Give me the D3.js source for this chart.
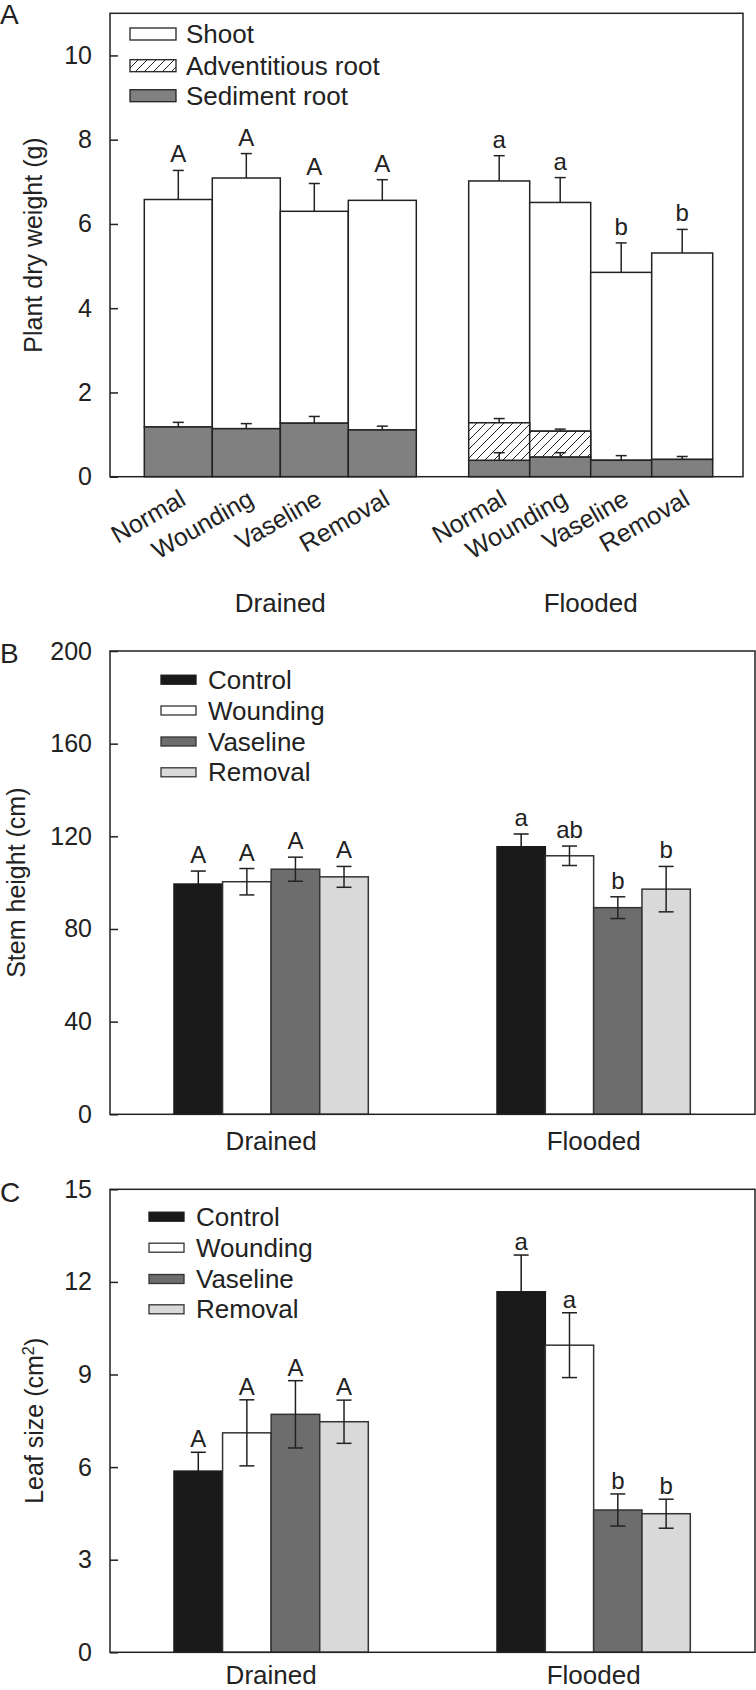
<!DOCTYPE html>
<html><head><meta charset="utf-8">
<script src="https://cdn.jsdelivr.net/npm/d3@7"></script>
<style>
body{margin:0;background:#fff}
svg{display:block}
text{font-family:"Liberation Sans",Arial,Helvetica,sans-serif}
</style>
</head><body>
<svg id="chart" width="756" height="1690"></svg>
<script>
// ================= DATA =================
const groups = ["Drained", "Flooded"];
const treatmentsA = ["Normal", "Wounding", "Vaseline", "Removal"];
const treatmentsBC = ["Control", "Wounding", "Vaseline", "Removal"];
const legendA = ["Shoot", "Adventitious root", "Sediment root"];

// Panel A – plant dry weight components (g)
const aSedimentDrained = [1.18, 1.14, 1.27, 1.11];
const aSedimentFlooded = [0.39, 0.47, 0.39, 0.41];
const aAdventDrained   = [0, 0, 0, 0];
const aAdventFlooded   = [0.89, 0.61, 0, 0];
const aShootDrained    = [5.40, 5.95, 5.03, 5.45];
const aShootFlooded    = [5.74, 5.43, 4.46, 4.90];
const aSedimentSeDrained = [0.11, 0.12, 0.16, 0.09];
const aSedimentSeFlooded = [0.18, 0.10, 0.11, 0.07];
const aAdventSeDrained   = [0, 0, 0, 0];
const aAdventSeFlooded   = [0.10, 0.05, 0, 0];
const aShootSeDrained    = [0.69, 0.58, 0.66, 0.49];
const aShootSeFlooded    = [0.60, 0.59, 0.70, 0.56];
const aLettersDrained = ["A", "A", "A", "A"];
const aLettersFlooded = ["a", "a", "b", "b"];
const aTicks = [0, 2, 4, 6, 8, 10];

// Panel B – stem height (cm)
const bDrained   = [99.4, 100.4, 105.8, 102.5];
const bFlooded   = [115.5, 111.6, 89.2, 97.2];
const bSeDrained = [5.6, 5.7, 5.2, 4.5];
const bSeFlooded = [5.5, 4.2, 4.7, 9.8];
const bLettersDrained = ["A", "A", "A", "A"];
const bLettersFlooded = ["a", "ab", "b", "b"];
const bTicks = [0, 40, 80, 120, 160, 200];

// Panel C – leaf size (cm2)
const cDrained   = [5.87, 7.11, 7.71, 7.47];
const cFlooded   = [11.68, 9.95, 4.61, 4.49];
const cSeDrained = [0.61, 1.07, 1.09, 0.70];
const cSeFlooded = [1.19, 1.05, 0.52, 0.47];
const cLettersDrained = ["A", "A", "A", "A"];
const cLettersFlooded = ["a", "a", "b", "b"];
const cTicks = [0, 3, 6, 9, 12, 15];

// ================= STYLE / LAYOUT =================
const INK = "#222";
const FONT = 25;
const svg = d3.select("#chart");

const defs = svg.append("defs");
const pat = defs.append("pattern").attr("id", "hatch")
  .attr("patternUnits", "userSpaceOnUse").attr("width", 9).attr("height", 9);
pat.append("rect").attr("width", 9).attr("height", 9).attr("fill", "#fff");
pat.append("path").attr("d", "M-2,2 L2,-2 M0,9 L9,0 M7,11 L11,7")
  .attr("stroke", INK).attr("stroke-width", 1);

const seriesFill = {Control: "#1a1a1a", Wounding: "#ffffff", Vaseline: "#6d6d6d", Removal: "#d9d9d9"};
const componentFill = {"Shoot": "#ffffff", "Adventitious root": "url(#hatch)", "Sediment root": "#808080"};

function frameAndAxis(g, f, y, ticks, title, titleX, letter, letterY) {
  const ax = g.append("g").attr("transform", `translate(${f.x0},0)`)
    .call(d3.axisLeft(y).tickValues(ticks).tickSize(-8).tickPadding(18).tickSizeOuter(0));
  ax.select(".domain").remove();
  ax.attr("font-family", null).attr("font-size", FONT).attr("color", INK);
  ax.selectAll(".tick line").attr("stroke-width", 1.5);
  g.append("rect").attr("x", f.x0).attr("y", f.y0)
    .attr("width", f.x1 - f.x0).attr("height", f.y1 - f.y0)
    .attr("fill", "none").attr("stroke", INK).attr("stroke-width", 1.5);
  const t = g.append("text").attr("transform", `translate(${titleX},${(f.y0 + f.y1) / 2}) rotate(-90)`)
    .attr("text-anchor", "middle").attr("font-size", FONT).attr("fill", INK);
  t.text(title.main);
  if (title.sup) {
    t.append("tspan").attr("baseline-shift", "super").attr("font-size", FONT * 0.65).text(title.sup);
    t.append("tspan").text(")");
  }
  g.append("text").attr("x", 0).attr("y", letterY).attr("font-size", 28).attr("fill", INK).text(letter);
}

function errBar(g, cx, y0, y1, capW, twoSided, y2, color) {
  const c = color || INK;
  g.append("line").attr("x1", cx).attr("x2", cx).attr("y1", twoSided ? y2 : y0).attr("y2", y1)
    .attr("stroke", c).attr("stroke-width", 1.5);
  g.append("line").attr("x1", cx - capW / 2).attr("x2", cx + capW / 2).attr("y1", y1).attr("y2", y1)
    .attr("stroke", c).attr("stroke-width", 1.5);
  if (twoSided) {
    g.append("line").attr("x1", cx - capW / 2).attr("x2", cx + capW / 2).attr("y1", y2).attr("y2", y2)
      .attr("stroke", c).attr("stroke-width", 1.5);
  }
}

// ================= PANEL A =================
(function () {
  const f = {x0: 110, x1: 743, y0: 13.3, y1: 476.7};
  const spans = {Drained: [144.3, 416.3], Flooded: [468.7, 712.7]};
  const y = d3.scaleLinear().domain([0, 11]).range([f.y1, f.y0]);
  const g = svg.append("g");
  const data = {
    Drained: {sed: aSedimentDrained, adv: aAdventDrained, sh: aShootDrained,
      sedSe: aSedimentSeDrained, advSe: aAdventSeDrained, shSe: aShootSeDrained, letters: aLettersDrained},
    Flooded: {sed: aSedimentFlooded, adv: aAdventFlooded, sh: aShootFlooded,
      sedSe: aSedimentSeFlooded, advSe: aAdventSeFlooded, shSe: aShootSeFlooded, letters: aLettersFlooded}
  };
  const keys = ["Sediment root", "Adventitious root", "Shoot"];
  groups.forEach(grp => {
    const d = data[grp];
    const x = d3.scaleBand().domain(treatmentsA).range(spans[grp]).padding(0);
    const rows = treatmentsA.map((t, i) => ({t, "Sediment root": d.sed[i], "Adventitious root": d.adv[i], "Shoot": d.sh[i],
      se: {"Sediment root": d.sedSe[i], "Adventitious root": d.advSe[i], "Shoot": d.shSe[i]}, letter: d.letters[i]}));
    const stack = d3.stack().keys(keys)(rows);
    [2, 0, 1].forEach(li => {
      const layer = stack[li];
      layer.forEach(s => {
        if (s[1] - s[0] <= 0) return;
        g.append("rect").attr("x", x(s.data.t)).attr("width", x.bandwidth())
          .attr("y", y(s[1])).attr("height", y(s[0]) - y(s[1]))
          .attr("fill", componentFill[layer.key]).attr("stroke", INK).attr("stroke-width", 1.5);
      });
    });
    stack.forEach(layer => {
      layer.forEach(s => {
        const se = s.data.se[layer.key];
        if (!se || s[1] - s[0] <= 0) return;
        const cx = x(s.data.t) + x.bandwidth() / 2;
        errBar(g, cx, y(s[1]), y(s[1] + se), 11, false);
      });
    });
    const top = stack[2];
    top.forEach(s => {
      const cx = x(s.data.t) + x.bandwidth() / 2;
      g.append("text").attr("x", cx).attr("y", y(s[1] + s.data.se["Shoot"]) - 8)
        .attr("text-anchor", "middle").attr("font-size", 24).attr("fill", INK).text(s.data.letter);
    });
    treatmentsA.forEach(t => {
      const cx = x(t) + x.bandwidth() / 2;
      g.append("text").attr("transform", `translate(${cx + 9},${f.y1 + 27}) rotate(-30)`)
        .attr("text-anchor", "end").attr("font-size", FONT).attr("fill", INK).text(t);
    });
    g.append("text").attr("x", (spans[grp][0] + spans[grp][1]) / 2).attr("y", 611.5)
      .attr("text-anchor", "middle").attr("font-size", 26).attr("fill", INK).text(grp);
  });
  frameAndAxis(g, f, y, aTicks, {main: "Plant dry weight (g)"}, 42, "A", 24);
  const lg = g.append("g");
  const rowsY = [34, 65.7, 95.7];
  legendA.forEach((k, i) => {
    lg.append("rect").attr("x", 130).attr("y", rowsY[i] - 6).attr("width", 46).attr("height", 12)
      .attr("fill", componentFill[k]).attr("stroke", INK).attr("stroke-width", 1.3);
    lg.append("text").attr("x", 186).attr("y", rowsY[i] + 9).attr("font-size", 26).attr("fill", INK).text(k);
  });
})();

// ================= PANELS B & C =================
function groupedPanel(cfg) {
  const f = cfg.frame;
  const y = d3.scaleLinear().domain(cfg.domain).range([f.y1, f.y0]);
  const g = svg.append("g");
  groups.forEach(grp => {
    const vals = cfg.values[grp], ses = cfg.se[grp], lets = cfg.letters[grp];
    const x = d3.scaleBand().domain(treatmentsBC).range(cfg.spans[grp]).padding(0);
    treatmentsBC.forEach((t, i) => {
      g.append("rect").attr("x", x(t)).attr("width", x.bandwidth())
        .attr("y", y(vals[i])).attr("height", y(0) - y(vals[i]))
        .attr("fill", seriesFill[t]).attr("stroke", t === "Control" ? "#1a1a1a" : "#333").attr("stroke-width", 1.5);
    });
    treatmentsBC.forEach((t, i) => {
      const cx = x(t) + x.bandwidth() / 2;
      errBar(g, cx, y(vals[i]), y(vals[i] + ses[i]), 15, true, y(vals[i] - ses[i]), t === "Control" ? "#1a1a1a" : INK);
      g.append("text").attr("x", cx).attr("y", y(vals[i] + ses[i]) - cfg.letterGap)
        .attr("text-anchor", "middle").attr("font-size", 24).attr("fill", INK).text(lets[i]);
    });
    g.append("text").attr("x", (cfg.spans[grp][0] + cfg.spans[grp][1]) / 2).attr("y", cfg.groupLabelY)
      .attr("text-anchor", "middle").attr("font-size", 26).attr("fill", INK).text(grp);
  });
  frameAndAxis(g, f, y, cfg.ticks, cfg.title, cfg.titleX, cfg.letter, cfg.letterY);
  treatmentsBC.forEach((t, i) => {
    const cy = cfg.legendY[i];
    g.append("rect").attr("x", cfg.legendX).attr("y", cy - 4.5).attr("width", 35).attr("height", 9)
      .attr("fill", seriesFill[t]).attr("stroke", t === "Control" ? "#1a1a1a" : "#333").attr("stroke-width", 1.3);
    g.append("text").attr("x", cfg.legendX + 47).attr("y", cy + 9).attr("font-size", 26).attr("fill", INK).text(t);
  });
}

groupedPanel({
  frame: {x0: 110, x1: 755, y0: 651, y1: 1114.3},
  domain: [0, 200], ticks: bTicks,
  spans: {Drained: [174, 368.3], Flooded: [497, 690.3]},
  values: {Drained: bDrained, Flooded: bFlooded},
  se: {Drained: bSeDrained, Flooded: bSeFlooded},
  letters: {Drained: bLettersDrained, Flooded: bLettersFlooded},
  letterGap: 8, groupLabelY: 1150,
  title: {main: "Stem height (cm)"}, titleX: 25,
  letter: "B", letterY: 663,
  legendX: 161, legendY: [679.7, 710.5, 741.5, 772.3]
});

groupedPanel({
  frame: {x0: 110, x1: 755, y0: 1189.3, y1: 1652.3},
  domain: [0, 15], ticks: cTicks,
  spans: {Drained: [174, 368.3], Flooded: [497, 690.3]},
  values: {Drained: cDrained, Flooded: cFlooded},
  se: {Drained: cSeDrained, Flooded: cSeFlooded},
  letters: {Drained: cLettersDrained, Flooded: cLettersFlooded},
  letterGap: 5, groupLabelY: 1684,
  title: {main: "Leaf size (cm", sup: "2"}, titleX: 43,
  letter: "C", letterY: 1202,
  legendX: 149, legendY: [1216.7, 1247.7, 1279, 1309.3]
});
</script>
</body></html>
